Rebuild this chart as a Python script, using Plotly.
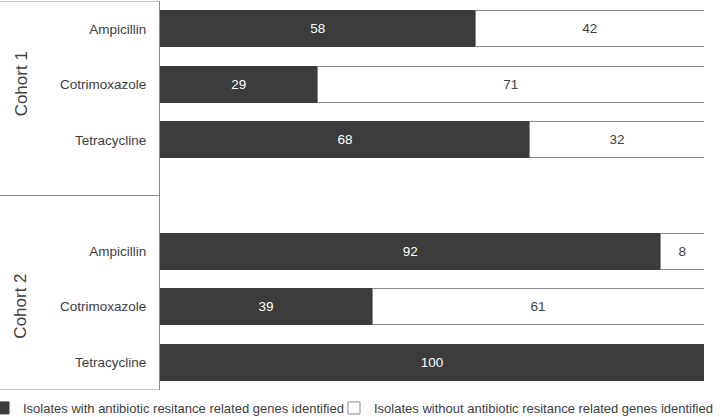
import plotly.graph_objects as go

cohorts = ["Cohort 1", "Cohort 2"]
antibiotics = ["Ampicillin", "Cotrimoxazole", "Tetracycline"]
with_genes = [[58, 29, 68], [92, 39, 100]]
without_genes = [[42, 71, 32], [8, 61, 0]]
series_names = [
    "Isolates with antibiotic resitance related genes identified",
    "Isolates without antibiotic resitance related genes identified",
]

FONT = "Liberation Sans, Arial, sans-serif"
DARK = "#3c3c3c"
TEXT = "#404040"

ypos, ylab, v1, v2 = [], [], [], []
for ci, c in enumerate(cohorts):
    for ai, a in enumerate(antibiotics):
        ypos.append(ci * 4 + ai)
        ylab.append(a)
        v1.append(with_genes[ci][ai])
        v2.append(without_genes[ci][ai])

fig = go.Figure()
fig.add_trace(go.Bar(
    x=v1, y=ypos, orientation="h", name=series_names[0], legend="legend",
    marker=dict(color=DARK, line=dict(color=DARK, width=1)),
    text=[str(v) if v else "" for v in v1], textposition="inside",
    insidetextanchor="middle", textfont=dict(color="white", size=13.5, family=FONT),
    hoverinfo="x+name",
))
fig.add_trace(go.Bar(
    x=v2, y=ypos, orientation="h", name=series_names[1], legend="legend2",
    marker=dict(color="white", line=dict(color="#8a8a8a", width=1)),
    text=[str(v) if v else "" for v in v2], textposition="inside",
    insidetextanchor="middle", textfont=dict(color=TEXT, size=13.5, family=FONT),
    hoverinfo="x+name",
))

L, R, T, B = 160, 16, 1, 27
W, H = 720, 417
pw = W - L - R
ph = H - T - B
lx = -L / pw


def px_x(p):
    return (p - L) / pw


def px_y(p):
    return (H - B - p) / ph


shapes = []
for yv in [-0.5, 3, 6.5]:
    shapes.append(dict(type="line", xref="paper", yref="y", x0=lx, x1=0, y0=yv, y1=yv,
                       line=dict(color="#8a8a8a", width=1)))

annotations = []
for ci, c in enumerate(cohorts):
    annotations.append(dict(text=c, xref="paper", yref="y", x=px_x(21), y=ci * 4 + 1,
                            textangle=-90, showarrow=False, xanchor="center", yanchor="middle",
                            font=dict(size=17, color=TEXT, family=FONT)))

leg_common = dict(orientation="h", yanchor="middle", y=px_y(408), xanchor="left",
                  font=dict(size=13, color=TEXT, family=FONT), itemwidth=30,
                  bgcolor="rgba(0,0,0,0)", borderwidth=0)

fig.update_layout(
    width=W, height=H, barmode="stack", bargap=0.35,
    margin=dict(l=L, r=R, t=T, b=B, autoexpand=False),
    paper_bgcolor="white", plot_bgcolor="white",
    font=dict(family=FONT, color=TEXT, size=13),
    xaxis=dict(range=[0, 100], visible=False, fixedrange=True),
    yaxis=dict(range=[6.5, -0.5], tickmode="array", tickvals=ypos, ticktext=ylab,
               showline=True, linecolor="#8a8a8a", linewidth=1, showgrid=False,
               zeroline=False, ticks="", ticklabelstandoff=10, automargin=False,
               tickfont=dict(size=13.5, color=TEXT, family=FONT)),
    legend=dict(x=px_x(-17), **leg_common),
    legend2=dict(x=px_x(334), **leg_common),
    shapes=shapes, annotations=annotations, showlegend=True,
)

fig.write_html("out.html", config={"displayModeBar": False},
               post_script="document.body.style.margin='0';document.body.style.padding='0';")
